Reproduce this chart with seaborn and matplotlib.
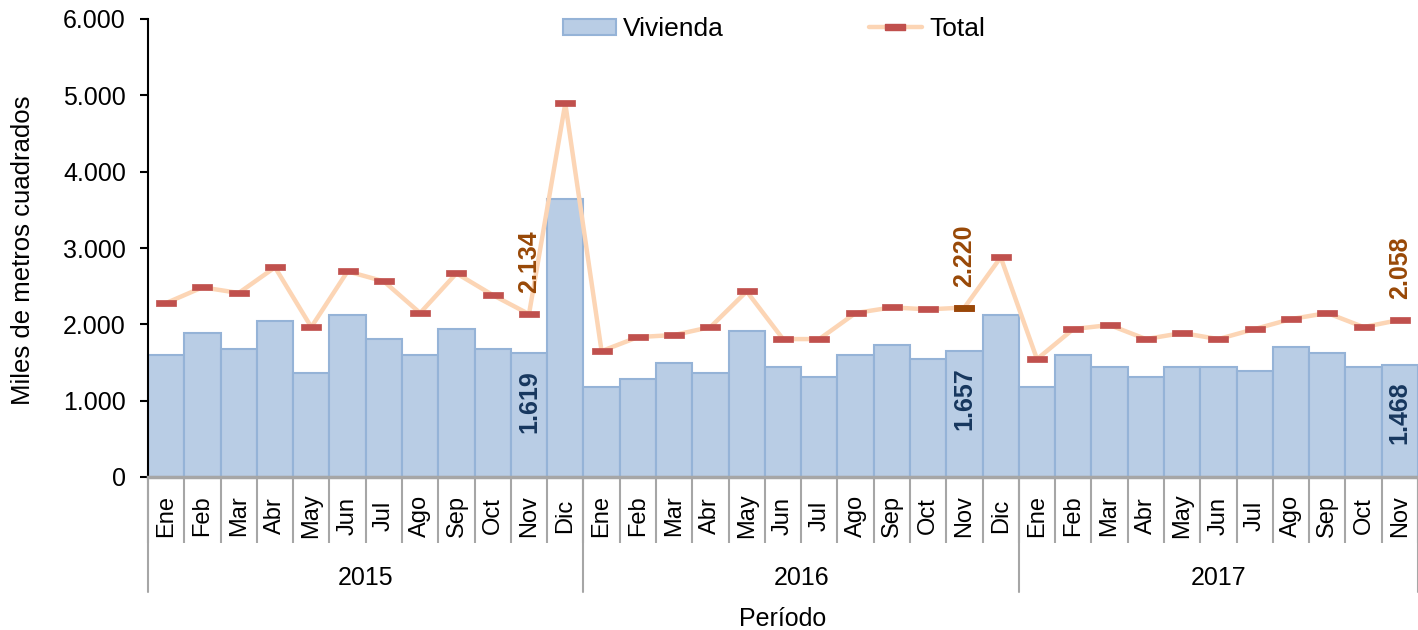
import numpy as np
import pandas as pd
import matplotlib
matplotlib.use("Agg")
import matplotlib.pyplot as plt
from matplotlib.patches import Patch
from matplotlib.lines import Line2D
from matplotlib.ticker import FuncFormatter
import seaborn as sns

# ---------------- data ----------------
years = ["2015", "2016", "2017"]
months = ["Ene", "Feb", "Mar", "Abr", "May", "Jun", "Jul", "Ago", "Sep", "Oct", "Nov", "Dic"]
months_per_year = [12, 12, 11]

vivienda = [1600, 1890, 1680, 2050, 1365, 2120, 1810, 1600, 1940, 1680, 1619, 3645,
            1181, 1286, 1496, 1365, 1916, 1444, 1312, 1601, 1732, 1549, 1657, 2122,
            1181, 1601, 1444, 1312, 1444, 1444, 1391, 1706, 1627, 1444, 1468]
total = [2279, 2485, 2411, 2747, 1964, 2694, 2563, 2148, 2668, 2384, 2134, 4895,
         1649, 1833, 1860, 1964, 2432, 1807, 1807, 2148, 2222, 2196, 2220, 2878,
         1544, 1938, 1991, 1807, 1886, 1807, 1938, 2069, 2148, 1964, 2058]
label_idx = [10, 22, 34]      # Nov of each year (labelled points)
highlight_idx = 22            # Nov 2016 total marker drawn in dark brown

# ---------------- styling ----------------
sns.set_style("white")
plt.rcParams["font.family"] = ["Liberation Sans", "DejaVu Sans"]
plt.rcParams["text.color"] = "black"
plt.rcParams["xtick.color"] = "black"
plt.rcParams["ytick.color"] = "black"
plt.rcParams["axes.labelcolor"] = "black"

BAR_FACE = "#B9CDE5"
BAR_EDGE = "#95B3D7"
LINE_COL = "#FCD5B5"
MARK_COL = "#C0504D"
BROWN = "#984807"
NAVY = "#17375E"
GREY = "#A6A6A6"

tick_labels = [m for ny in months_per_year for m in months[:ny]]
n = len(vivienda)
x = np.arange(n)
df = pd.DataFrame({"x": x, "Vivienda": vivienda, "Total": total})

W, H = 1418, 630
fig = plt.figure(figsize=(W / 100, H / 100), dpi=100)
ax = fig.add_axes([148 / W, (H - 477) / H, 1270 / W, 458 / H])

rect = [(-1, -0.27), (1, -0.27), (1, 0.27), (-1, 0.27), (-1, -0.27)]

sns.barplot(data=df, x="x", y="Vivienda", ax=ax, color=BAR_FACE, saturation=1,
            width=1.0, edgecolor=BAR_EDGE, linewidth=1.5, zorder=1)
sns.lineplot(data=df, x="x", y="Total", ax=ax, color=LINE_COL, linewidth=3.2,
             marker=rect, markersize=14.5, markerfacecolor=MARK_COL,
             markeredgecolor=MARK_COL, markeredgewidth=0.5, zorder=3)
ax.plot([x[highlight_idx]], [total[highlight_idx]], linestyle="none", marker=rect,
        markersize=14.5, markerfacecolor=BROWN, markeredgecolor=BROWN,
        markeredgewidth=0.5, zorder=4)

# data labels
for i in label_idx:
    ax.annotate(f"{total[i]:,}".replace(",", "."), (x[i], total[i]),
                xytext=(0, 15), textcoords="offset points", rotation=90,
                ha="center", va="bottom", fontsize=18, fontweight="bold",
                color=BROWN, zorder=5)
    ax.annotate(f"{vivienda[i]:,}".replace(",", "."), (x[i], vivienda[i]),
                xytext=(0, -12), textcoords="offset points", rotation=90,
                ha="center", va="top", fontsize=18, fontweight="bold",
                color=NAVY, zorder=5)

# axes limits / ticks
ax.set_xlim(-0.5, n - 0.5)
ax.set_ylim(0, 6000)
ax.set_yticks(np.arange(0, 6001, 1000))
ax.yaxis.set_major_formatter(FuncFormatter(lambda v, p: f"{v:,.0f}".replace(",", ".")))
ax.tick_params(axis="y", labelsize=18, length=6, width=1.5, color="black",
               labelcolor="black", direction="out", left=True, pad=10)

ax.set_xticks(x)
ax.set_xticklabels(tick_labels, rotation=90, va="center", fontsize=17)
ax.tick_params(axis="x", which="major", length=0, pad=28, labelcolor="black")
ax.set_xticks(np.arange(-0.5, n, 1.0), minor=True)
ax.tick_params(axis="x", which="minor", length=47.5, width=1.5, color=GREY,
               direction="out", bottom=True)

ax.set_xlabel("")
ax.set_ylabel("")

for s in ["top", "right"]:
    ax.spines[s].set_visible(False)
ax.spines["left"].set_color("black")
ax.spines["left"].set_linewidth(1.5)
ax.spines["bottom"].set_color(GREY)
ax.spines["bottom"].set_linewidth(2.5)

# year group separators and labels
trans = matplotlib.transforms.blended_transform_factory(ax.transData, ax.transAxes)
bounds = np.concatenate([[0], np.cumsum(months_per_year)]) - 0.5
for b in bounds:
    ax.plot([b, b], [0, -(592 - 477) / 458], transform=trans, color=GREY,
            linewidth=1.5, clip_on=False, zorder=0)
for k, yr in enumerate(years):
    ax.text((bounds[k] + bounds[k + 1]) / 2, -(578 - 477) / 458, yr, transform=trans,
            ha="center", va="center", fontsize=18, color="black")

fig.text((148 + 635) / W, 1 - 619 / H, "Período", ha="center", va="center",
         fontsize=18, color="black")
fig.text(23 / W, 1 - 250 / H, "Miles de metros cuadrados", rotation=90,
         ha="center", va="center", fontsize=18.5, color="black")

# legend
handles = [Patch(facecolor=BAR_FACE, edgecolor=BAR_EDGE, linewidth=1.5),
           Line2D([0], [0], color=LINE_COL, linewidth=3.2, marker=rect, markersize=14.5,
                  markerfacecolor=MARK_COL, markeredgecolor=MARK_COL)]
leg = ax.legend(handles, ["Vivienda", "Total"], loc="center",
                bbox_to_anchor=(0.5 - 9 / 1270, 1 - (29 - 19) / 458),
                ncol=2, frameon=False, fontsize=19, handlelength=2.0, handleheight=0.55,
                handletextpad=0.28, columnspacing=5.5)
for t in leg.get_texts():
    t.set_color("black")

fig.savefig("out.png", dpi=100)
